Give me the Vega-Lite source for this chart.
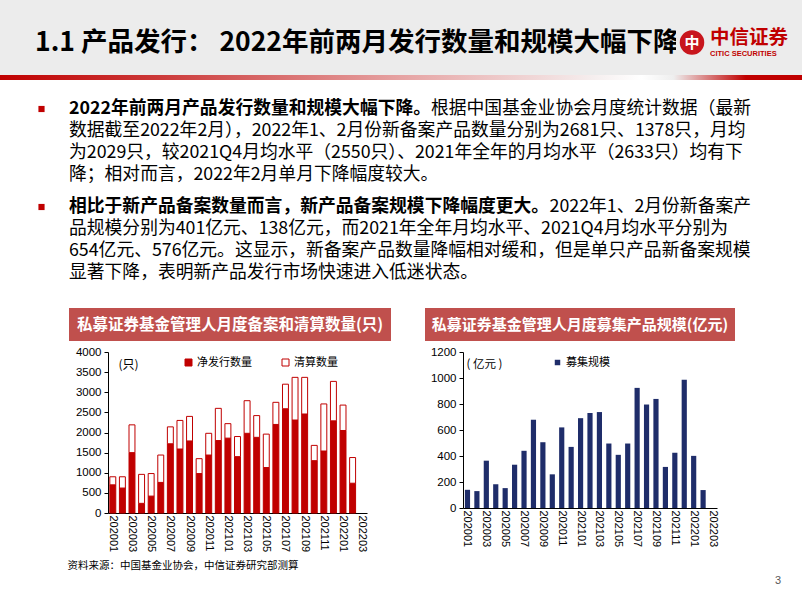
{
"$schema": "https://vega.github.io/schema/vega-lite/v6.json",
"padding": 0,
"background": "#ffffff",
"data": {"values": [{}]},
"spacing": 0,
"vconcat": [
 {"spacing": 0, "bounds": "flush", "hconcat": [
  {"width": 35, "height": 75, "mark": {"type": "rect", "color": "#ececec"}, "encoding": {"x": {"value": 0}, "x2": {"value": "width"}, "y": {"value": 0}, "y2": {"value": "height"}}},
  {"width": 641, "height": 75, "layer": [
   {"mark": {"type": "rect", "color": "#ececec"}, "encoding": {"x": {"value": 0}, "x2": {"value": "width"}, "y": {"value": 0}, "y2": {"value": "height"}}},
   {"data": {"values": [{"t": "1.1 产品发行： 2022年前两月发行数量和规模大幅下降"}]}, "mark": {"type": "text", "align": "left", "baseline": "middle", "dy": 5, "font": "Noto Sans CJK SC", "fontSize": 26.5, "fontWeight": "bold", "color": "#000000"}, "encoding": {"x": {"datum": 0, "type": "quantitative", "scale": {"domain": [0, 1]}, "axis": null}, "text": {"field": "t"}}}
  ]},
  {"width": 32, "height": 75, "layer": [
   {"mark": {"type": "rect", "color": "#ececec"}, "encoding": {"x": {"value": 0}, "x2": {"value": "width"}, "y": {"value": 0}, "y2": {"value": "height"}}},
   {"mark": {"type": "point", "shape": "circle", "filled": true, "size": 600, "yOffset": 5, "color": "#c8161d", "opacity": 1}, "encoding": {}},
   {"data": {"values": [{"t": "中"}]}, "mark": {"type": "text", "baseline": "middle", "dy": 5, "fontSize": 15, "fontWeight": "bold", "color": "#ffffff"}, "encoding": {"text": {"field": "t"}}}
  ]},
  {"spacing": 0, "bounds": "flush", "vconcat": [
   {"width": 94, "height": 28, "mark": {"type": "rect", "color": "#ececec"}, "encoding": {"x": {"value": 0}, "x2": {"value": "width"}, "y": {"value": 0}, "y2": {"value": "height"}}},
   {"width": 94, "height": 20, "layer": [
    {"mark": {"type": "rect", "color": "#ececec"}, "encoding": {"x": {"value": 0}, "x2": {"value": "width"}, "y": {"value": 0}, "y2": {"value": "height"}}},
    {"data": {"values": [{"t": "中信证券"}]}, "mark": {"type": "text", "align": "left", "baseline": "middle", "dx": 2, "fontSize": 19.5, "fontWeight": "bold", "color": "#c00000"}, "encoding": {"x": {"datum": 0, "type": "quantitative", "scale": {"domain": [0, 1]}, "axis": null}, "text": {"field": "t"}}}
   ]},
   {"width": 94, "height": 12, "layer": [
    {"mark": {"type": "rect", "color": "#ececec"}, "encoding": {"x": {"value": 0}, "x2": {"value": "width"}, "y": {"value": 0}, "y2": {"value": "height"}}},
    {"data": {"values": [{"t": "CITIC SECURITIES"}]}, "mark": {"type": "text", "align": "left", "baseline": "middle", "dx": 2, "font": "Liberation Sans", "fontSize": 7.5, "fontWeight": "bold", "color": "#c00000"}, "encoding": {"x": {"datum": 0, "type": "quantitative", "scale": {"domain": [0, 1]}, "axis": null}, "text": {"field": "t"}}}
   ]},
   {"width": 94, "height": 15, "mark": {"type": "rect", "color": "#ececec"}, "encoding": {"x": {"value": 0}, "x2": {"value": "width"}, "y": {"value": 0}, "y2": {"value": "height"}}}
  ]}
 ]},
 {"width": 802, "height": 5, "mark": {"type": "rect", "color": {"gradient": "linear", "x1": 0, "y1": 0, "x2": 1, "y2": 0, "stops": [{"offset": 0, "color": "#c00000"}, {"offset": 0.2, "color": "#cc3a3a"}, {"offset": 0.5, "color": "#e6a3a3"}, {"offset": 0.74, "color": "#f5eeee"}, {"offset": 0.8, "color": "#ffffff"}, {"offset": 0.84, "color": "#eeeeee"}, {"offset": 0.93, "color": "#c00000"}, {"offset": 1, "color": "#c00000"}]}}, "encoding": {"x": {"value": 0}, "x2": {"value": "width"}, "y": {"value": 0}, "y2": {"value": "height"}}},
 {"width": 802, "height": 18, "mark": {"type": "rect", "opacity": 0}, "encoding": {"x": {"value": 0}, "x2": {"value": "width"}, "y": {"value": 0}, "y2": {"value": "height"}}},
 {"spacing": 0, "bounds": "flush", "hconcat": [
  {"width": 38, "height": 88, "mark": {"type": "rect", "opacity": 0}, "encoding": {"x": {"value": 0}, "x2": {"value": "width"}, "y": {"value": 0}, "y2": {"value": "height"}}},
  {"width": 7, "height": 22, "mark": {"type": "square", "size": 38, "filled": true, "opacity": 1, "color": "#c00000"}, "encoding": {}},
  {"width": 24, "height": 88, "mark": {"type": "rect", "opacity": 0}, "encoding": {"x": {"value": 0}, "x2": {"value": "width"}, "y": {"value": 0}, "y2": {"value": "height"}}},
  {"width": 682, "height": 88, "layer": [
   {"data": {"values": [
     {"line": 2, "t": "数据截至2022年2月），2022年1、2月份新备案产品数量分别为2681只、1378只，月均"},
     {"line": 3, "t": "为2029只，较2021Q4月均水平（2550只）、2021年全年的月均水平（2633只）均有下"},
     {"line": 4, "t": "降；相对而言，2022年2月单月下降幅度较大。"}
    ]},
    "mark": {"type": "text", "align": "left", "baseline": "middle", "fontSize": 17.8, "color": "#000000"},
    "encoding": {"x": {"datum": 0, "type": "quantitative", "scale": {"domain": [0, 1]}, "axis": null}, "y": {"field": "line", "type": "ordinal", "scale": {"domain": [1, 2, 3, 4]}, "axis": null}, "text": {"field": "t"}}},
   {"data": {"values": [{"line": 1, "t": "2022年前两月产品发行数量和规模大幅下降。"}]},
    "mark": {"type": "text", "align": "left", "baseline": "middle", "fontSize": 17.8, "fontWeight": "bold", "color": "#000000"},
    "encoding": {"x": {"datum": 0, "type": "quantitative", "scale": {"domain": [0, 1]}, "axis": null}, "y": {"field": "line", "type": "ordinal", "scale": {"domain": [1, 2, 3, 4]}, "axis": null}, "text": {"field": "t"}}},
   {"data": {"values": [{"line": 1, "t": "根据中国基金业协会月度统计数据（最新"}]},
    "mark": {"type": "text", "align": "right", "baseline": "middle", "fontSize": 17.8, "color": "#000000"},
    "encoding": {"x": {"datum": 1, "type": "quantitative", "scale": {"domain": [0, 1]}, "axis": null}, "y": {"field": "line", "type": "ordinal", "scale": {"domain": [1, 2, 3, 4]}, "axis": null}, "text": {"field": "t"}}}
  ]}
 ]},
 {"width": 802, "height": 10, "mark": {"type": "rect", "opacity": 0}, "encoding": {"x": {"value": 0}, "x2": {"value": "width"}, "y": {"value": 0}, "y2": {"value": "height"}}},
 {"spacing": 0, "bounds": "flush", "hconcat": [
  {"width": 38, "height": 88, "mark": {"type": "rect", "opacity": 0}, "encoding": {"x": {"value": 0}, "x2": {"value": "width"}, "y": {"value": 0}, "y2": {"value": "height"}}},
  {"width": 7, "height": 22, "mark": {"type": "square", "size": 38, "filled": true, "opacity": 1, "color": "#c00000"}, "encoding": {}},
  {"width": 24, "height": 88, "mark": {"type": "rect", "opacity": 0}, "encoding": {"x": {"value": 0}, "x2": {"value": "width"}, "y": {"value": 0}, "y2": {"value": "height"}}},
  {"width": 682, "height": 88, "layer": [
   {"data": {"values": [
     {"line": 2, "t": "品规模分别为401亿元、138亿元，而2021年全年月均水平、2021Q4月均水平分别为"},
     {"line": 3, "t": "654亿元、576亿元。这显示，新备案产品数量降幅相对缓和，但是单只产品新备案规模"},
     {"line": 4, "t": "显著下降，表明新产品发行市场快速进入低迷状态。"}
    ]},
    "mark": {"type": "text", "align": "left", "baseline": "middle", "fontSize": 17.8, "color": "#000000"},
    "encoding": {"x": {"datum": 0, "type": "quantitative", "scale": {"domain": [0, 1]}, "axis": null}, "y": {"field": "line", "type": "ordinal", "scale": {"domain": [1, 2, 3, 4]}, "axis": null}, "text": {"field": "t"}}},
   {"data": {"values": [{"line": 1, "t": "相比于新产品备案数量而言，新产品备案规模下降幅度更大。"}]},
    "mark": {"type": "text", "align": "left", "baseline": "middle", "fontSize": 17.8, "fontWeight": "bold", "color": "#000000"},
    "encoding": {"x": {"datum": 0, "type": "quantitative", "scale": {"domain": [0, 1]}, "axis": null}, "y": {"field": "line", "type": "ordinal", "scale": {"domain": [1, 2, 3, 4]}, "axis": null}, "text": {"field": "t"}}},
   {"data": {"values": [{"line": 1, "t": "2022年1、2月份新备案产"}]},
    "mark": {"type": "text", "align": "right", "baseline": "middle", "fontSize": 17.8, "color": "#000000"},
    "encoding": {"x": {"datum": 1, "type": "quantitative", "scale": {"domain": [0, 1]}, "axis": null}, "y": {"field": "line", "type": "ordinal", "scale": {"domain": [1, 2, 3, 4]}, "axis": null}, "text": {"field": "t"}}}
  ]}
 ]},
 {"width": 802, "height": 24, "mark": {"type": "rect", "opacity": 0}, "encoding": {"x": {"value": 0}, "x2": {"value": "width"}, "y": {"value": 0}, "y2": {"value": "height"}}},
 {"spacing": 0, "bounds": "flush", "hconcat": [
  {"width": 69, "height": 33, "mark": {"type": "rect", "opacity": 0}, "encoding": {"x": {"value": 0}, "x2": {"value": "width"}, "y": {"value": 0}, "y2": {"value": "height"}}},
  {"width": 322, "height": 33, "layer": [
   {"mark": {"type": "rect", "color": "#c0504d"}, "encoding": {"x": {"value": 0}, "x2": {"value": "width"}, "y": {"value": 0}, "y2": {"value": "height"}}},
   {"data": {"values": [{"t": "私募证券基金管理人月度备案和清算数量(只)"}]}, "mark": {"type": "text", "baseline": "middle", "fontSize": 15.5, "fontWeight": "bold", "color": "#ffffff"}, "encoding": {"text": {"field": "t"}}}
  ]},
  {"width": 34, "height": 33, "mark": {"type": "rect", "opacity": 0}, "encoding": {"x": {"value": 0}, "x2": {"value": "width"}, "y": {"value": 0}, "y2": {"value": "height"}}},
  {"width": 310, "height": 33, "layer": [
   {"mark": {"type": "rect", "color": "#c0504d"}, "encoding": {"x": {"value": 0}, "x2": {"value": "width"}, "y": {"value": 0}, "y2": {"value": "height"}}},
   {"data": {"values": [{"t": "私募证券基金管理人月度募集产品规模(亿元)"}]}, "mark": {"type": "text", "baseline": "middle", "fontSize": 15, "fontWeight": "bold", "color": "#ffffff"}, "encoding": {"text": {"field": "t"}}}
  ]}
 ]},
 {"width": 802, "height": 5, "mark": {"type": "rect", "opacity": 0}, "encoding": {"x": {"value": 0}, "x2": {"value": "width"}, "y": {"value": 0}, "y2": {"value": "height"}}},
 {"spacing": 0, "bounds": "flush",
  "resolve": {"scale": {"color": "independent"}, "legend": {"color": "independent"}},
  "hconcat": [
  {"width": 108, "height": 161, "mark": {"type": "rect", "opacity": 0}, "encoding": {"x": {"value": 0}, "x2": {"value": "width"}, "y": {"value": 0}, "y2": {"value": "height"}}},
  {"width": 259, "height": 161,
   "data": {"values": [
    {"m": "202001", "net": 700, "clear": 200},
    {"m": "202002", "net": 620, "clear": 280},
    {"m": "202003", "net": 1500, "clear": 690},
    {"m": "202004", "net": 240, "clear": 720},
    {"m": "202005", "net": 420, "clear": 560},
    {"m": "202006", "net": 760, "clear": 680},
    {"m": "202007", "net": 1720, "clear": 420},
    {"m": "202008", "net": 1590, "clear": 710},
    {"m": "202009", "net": 1790, "clear": 610},
    {"m": "202010", "net": 980, "clear": 370},
    {"m": "202011", "net": 1440, "clear": 540},
    {"m": "202012", "net": 1800, "clear": 800},
    {"m": "202101", "net": 1860, "clear": 360},
    {"m": "202102", "net": 1400, "clear": 500},
    {"m": "202103", "net": 1980, "clear": 810},
    {"m": "202104", "net": 1880, "clear": 540},
    {"m": "202105", "net": 1130, "clear": 830},
    {"m": "202106", "net": 2200, "clear": 550},
    {"m": "202107", "net": 2590, "clear": 610},
    {"m": "202108", "net": 2310, "clear": 1060},
    {"m": "202109", "net": 2460, "clear": 910},
    {"m": "202110", "net": 1300, "clear": 380},
    {"m": "202111", "net": 1540, "clear": 1170},
    {"m": "202112", "net": 2290, "clear": 980},
    {"m": "202201", "net": 2050, "clear": 631},
    {"m": "202202", "net": 740, "clear": 638}
   ]},
   "transform": [{"fold": ["net", "clear"], "as": ["type", "v"]}],
   "mark": {"type": "bar", "stroke": "#c00000", "strokeWidth": 1},
   "encoding": {
    "x": {"field": "m", "type": "ordinal",
     "scale": {"domain": ["202001","202002","202003","202004","202005","202006","202007","202008","202009","202010","202011","202012","202101","202102","202103","202104","202105","202106","202107","202108","202109","202110","202111","202112","202201","202202","202203"], "paddingInner": 0.38, "paddingOuter": 0.19},
     "axis": {"title": null, "values": ["202001","202003","202005","202007","202009","202011","202101","202103","202105","202107","202109","202111","202201","202203"], "labelAngle": 90, "labelFontSize": 11, "labelPadding": 2, "ticks": false}},
    "y": {"field": "v", "type": "quantitative", "stack": "zero",
     "scale": {"domain": [0, 4000], "nice": false},
     "axis": {"values": [0, 500, 1000, 1500, 2000, 2500, 3000, 3500, 4000], "format": "d", "title": "(只)", "titleAngle": 0, "titleAlign": "left", "titleBaseline": "middle", "titleX": 10, "titleY": 12, "titleFontSize": 12}},
    "color": {"field": "type", "type": "nominal",
     "scale": {"domain": ["net", "clear"], "range": ["#c00000", "#ffffff"]},
     "legend": {"orient": "none", "legendX": 75, "legendY": 5, "direction": "horizontal", "title": null, "labelExpr": "datum.label == 'net' ? '净发行数量' : '清算数量'", "symbolType": "square", "symbolSize": 49, "symbolStrokeColor": "#c00000", "symbolStrokeWidth": 1, "labelFontSize": 11, "labelOffset": 3, "columnPadding": 28}},
    "order": {"field": "type", "sort": "descending"}
   }
  },
  {"width": 96, "height": 161, "mark": {"type": "rect", "opacity": 0}, "encoding": {"x": {"value": 0}, "x2": {"value": "width"}, "y": {"value": 0}, "y2": {"value": "height"}}},
  {"width": 254, "height": 156,
   "data": {"values": [
    {"m": "202001", "v": 140},
    {"m": "202002", "v": 130},
    {"m": "202003", "v": 364},
    {"m": "202004", "v": 183},
    {"m": "202005", "v": 153},
    {"m": "202006", "v": 333},
    {"m": "202007", "v": 440},
    {"m": "202008", "v": 679},
    {"m": "202009", "v": 506},
    {"m": "202010", "v": 259},
    {"m": "202011", "v": 620},
    {"m": "202012", "v": 470},
    {"m": "202101", "v": 691},
    {"m": "202102", "v": 730},
    {"m": "202103", "v": 738},
    {"m": "202104", "v": 496},
    {"m": "202105", "v": 409},
    {"m": "202106", "v": 496},
    {"m": "202107", "v": 924},
    {"m": "202108", "v": 796},
    {"m": "202109", "v": 839},
    {"m": "202110", "v": 316},
    {"m": "202111", "v": 425},
    {"m": "202112", "v": 987},
    {"m": "202201", "v": 401},
    {"m": "202202", "v": 138}
   ]},
   "mark": {"type": "bar"},
   "encoding": {
    "x": {"field": "m", "type": "ordinal",
     "scale": {"domain": ["202001","202002","202003","202004","202005","202006","202007","202008","202009","202010","202011","202012","202101","202102","202103","202104","202105","202106","202107","202108","202109","202110","202111","202112","202201","202202","202203"], "paddingInner": 0.45, "paddingOuter": 0.2},
     "axis": {"title": null, "values": ["202001","202003","202005","202007","202009","202011","202101","202103","202105","202107","202109","202111","202201","202203"], "labelAngle": 90, "labelFontSize": 11, "labelPadding": 2, "ticks": false}},
    "y": {"field": "v", "type": "quantitative",
     "scale": {"domain": [0, 1200], "nice": false},
     "axis": {"values": [0, 200, 400, 600, 800, 1000, 1200], "format": "d", "title": "( 亿元 )", "titleAngle": 0, "titleAlign": "left", "titleBaseline": "middle", "titleX": 3, "titleY": 12, "titleFontSize": 11.5}},
    "color": {"datum": "募集规模", "type": "nominal",
     "scale": {"range": ["#1f2d6a"]},
     "legend": {"orient": "none", "legendX": 89, "legendY": 5, "title": null, "symbolType": "square", "symbolSize": 30, "labelFontSize": 11, "labelOffset": 3}}
   }
  }
 ]},
 {"width": 802, "height": 7, "mark": {"type": "rect", "opacity": 0}, "encoding": {"x": {"value": 0}, "x2": {"value": "width"}, "y": {"value": 0}, "y2": {"value": "height"}}},
 {"spacing": 0, "bounds": "flush", "hconcat": [
  {"width": 72, "height": 14, "mark": {"type": "rect", "opacity": 0}, "encoding": {"x": {"value": 0}, "x2": {"value": "width"}, "y": {"value": 0}, "y2": {"value": "height"}}},
  {"width": 222, "height": 14, "data": {"values": [{"t": "资料来源：中国基金业协会，中信证券研究部测算"}]}, "mark": {"type": "text", "baseline": "middle", "fontSize": 10.5, "color": "#000000"}, "encoding": {"text": {"field": "t"}}}
 ]},
 {"spacing": 0, "bounds": "flush", "hconcat": [
  {"width": 772, "height": 16, "mark": {"type": "rect", "opacity": 0}, "encoding": {"x": {"value": 0}, "x2": {"value": "width"}, "y": {"value": 0}, "y2": {"value": "height"}}},
  {"width": 12, "height": 16, "data": {"values": [{"t": "3"}]}, "mark": {"type": "text", "baseline": "middle", "font": "Liberation Sans", "fontSize": 11, "color": "#595959"}, "encoding": {"text": {"field": "t"}}}
 ]}
],
"config": {
 "view": {"stroke": null},
 "font": "Noto Sans CJK SC",
 "axis": {"grid": false, "labelFont": "Liberation Sans", "labelFontSize": 11.5, "labelColor": "#000000", "domainColor": "#000000", "domainWidth": 1, "tickColor": "#000000", "tickSize": 4, "labelPadding": 3, "titleFont": "Noto Sans CJK SC", "titleFontWeight": "normal", "titleColor": "#000000"},
 "legend": {"labelFont": "Noto Sans CJK SC", "labelColor": "#000000", "labelFontSize": 11, "padding": 0}
}
}
